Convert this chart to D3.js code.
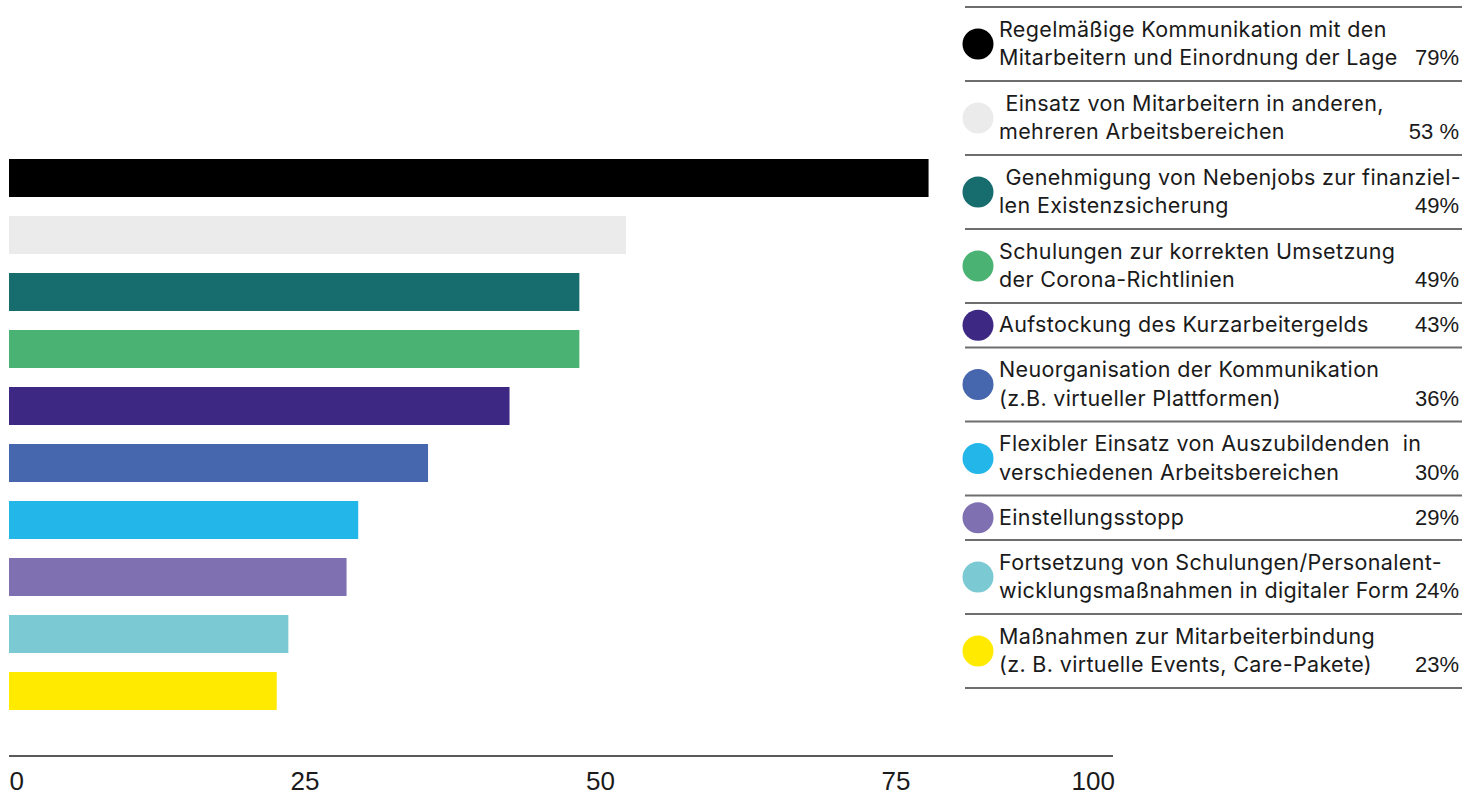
<!DOCTYPE html>
<html lang="de">
<head>
<meta charset="utf-8">
<script src="https://cdn.jsdelivr.net/npm/d3@7"></script>
<style>
  html, body { margin: 0; padding: 0; background: #fff; }
  svg { display: block; }
  .legend text { font-family: Inter, "Noto Sans", sans-serif; font-size: 21.5px; letter-spacing: 0.35px; fill: #1a1a1a; white-space: pre; }
  .legend text.pct { font-family: "Liberation Sans", Arial, sans-serif; font-size: 22px; letter-spacing: 0; }
  .axis text { font-family: "Liberation Sans", Arial, sans-serif; font-size: 26px; fill: #1a1a1a; }
</style>
</head>
<body>
<svg id="chart" width="1462" height="796"></svg>
<script>
// Maßnahmen der Unternehmen in der Corona-Krise (Anteil in %)
const measures = [
  ["Regelmäßige Kommunikation mit den", "Mitarbeitern und Einordnung der Lage"],
  [" Einsatz von Mitarbeitern in anderen,", "mehreren Arbeitsbereichen"],
  [" Genehmigung von Nebenjobs zur finanziel-", "len Existenzsicherung"],
  ["Schulungen zur korrekten Umsetzung", "der Corona-Richtlinien"],
  ["Aufstockung des Kurzarbeitergelds"],
  ["Neuorganisation der Kommunikation", "(z.B. virtueller Plattformen)"],
  ["Flexibler Einsatz von Auszubildenden  in", "verschiedenen Arbeitsbereichen"],
  ["Einstellungsstopp"],
  ["Fortsetzung von Schulungen/Personalent-", "wicklungsmaßnahmen in digitaler Form"],
  ["Maßnahmen zur Mitarbeiterbindung", "(z. B. virtuelle Events, Care-Pakete)"]
];
const shares = [79, 53, 49, 49, 43, 36, 30, 29, 24, 23];
const shareLabels = ["79%", "53 %", "49%", "49%", "43%", "36%", "30%", "29%", "24%", "23%"];
const colors = ["#000000", "#ebebeb", "#176c6e", "#4ab273", "#3d2883", "#4666ad", "#22b6e9", "#7f70b2", "#7bc9d3", "#ffea00"];
const axisTicks = [0, 25, 50, 75, 100];

const svg = d3.select("#chart");
const ids = d3.range(shares.length);

// Bars
const x = d3.scaleLinear().domain([0, 100]).range([9, 1173]);
const y = d3.scaleBand().domain(ids).range([159, 710]).paddingInner(1 / 3).paddingOuter(0);

svg.append("g").selectAll("rect")
  .data(ids)
  .join("rect")
  .attr("x", x(0))
  .attr("y", i => y(i))
  .attr("width", i => x(shares[i]) - x(0))
  .attr("height", y.bandwidth())
  .attr("fill", i => colors[i]);

// Axis: baseline with value labels below
const axisY = 756, axisEnd = 1113;
const axisG = svg.append("g").attr("class", "axis").attr("transform", `translate(0,${axisY})`)
  .call(d3.axisBottom(x).tickValues(axisTicks).tickSize(0).tickPadding(16).tickFormat(d3.format("d")));
axisG.select(".domain").remove();
axisG.append("line")
  .attr("x1", x(0)).attr("x2", axisEnd)
  .attr("stroke", "#222").attr("stroke-width", 1.6);
axisG.selectAll(".tick text")
  .attr("font-family", null).attr("font-size", null).attr("fill", null)
  .attr("dy", "0.71em")
  .attr("dx", d => d * 0.18);
axisG.selectAll(".tick").filter(d => d === 0).select("text").attr("text-anchor", "start");
axisG.selectAll(".tick").filter(d => d === 100)
  .attr("transform", `translate(${axisEnd + 2},0)`)
  .select("text").attr("text-anchor", "end").attr("dx", 0);

// Legend with separators, colour dots, labels and shares
const legend = svg.append("g").attr("class", "legend");
const legendLeft = 965, legendRight = 1462, lineGap = 28.5;
const rowHeight = n => 15 + n * 29.5;
let rowTop = 7;
const rows = ids.map(i => {
  const h = rowHeight(measures[i].length);
  const r = { i, y0: rowTop, h };
  rowTop += h;
  return r;
});

legend.selectAll("line.sep")
  .data([7].concat(rows.map(r => r.y0 + r.h)))
  .join("line")
  .attr("class", "sep")
  .attr("x1", legendLeft).attr("x2", legendRight)
  .attr("y1", d => d).attr("y2", d => d)
  .attr("stroke", "#6e6e6e").attr("stroke-width", 1.8);

const rowG = legend.selectAll("g.row")
  .data(rows)
  .join("g")
  .attr("class", "row")
  .attr("transform", r => `translate(0,${r.y0 + r.h / 2})`);

rowG.append("circle")
  .attr("cx", 978).attr("cy", 0).attr("r", 15.5)
  .attr("fill", r => colors[r.i]);

rowG.each(function (r) {
  const lines = measures[r.i];
  const n = lines.length;
  const g = d3.select(this);
  lines.forEach((t, k) => {
    g.append("text")
      .attr("x", 999)
      .attr("y", 7 + (k - (n - 1) / 2) * lineGap)
      .text(t);
  });
  g.append("text")
    .attr("class", "pct")
    .attr("x", 1459)
    .attr("y", 7 + ((n - 1) / 2) * lineGap)
    .attr("text-anchor", "end")
    .text(shareLabels[r.i]);
});
</script>
</body>
</html>
